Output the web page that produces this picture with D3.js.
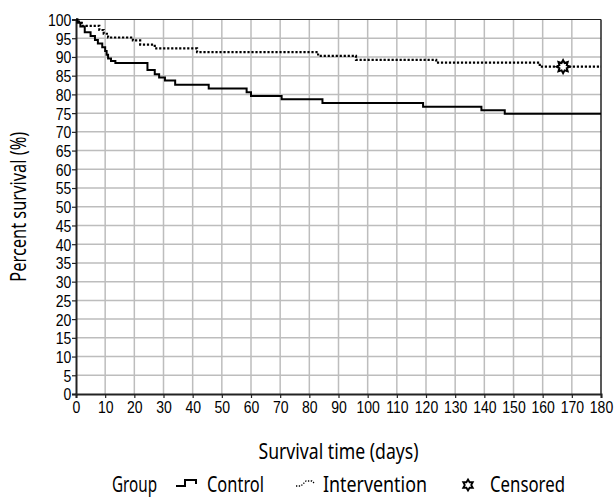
<!DOCTYPE html>
<html>
<head>
<meta charset="utf-8">
<script src="https://cdn.jsdelivr.net/npm/d3@7"></script>
<style>
  html, body { margin: 0; padding: 0; background: #fff; }
  svg { display: block; }
  .lbl { font-family: 'Noto Sans', 'Open Sans', 'DejaVu Sans', sans-serif; fill: #000; }
  .tk { font-family: 'Liberation Sans', Arial, sans-serif; fill: #000; }
</style>
</head>
<body>
<svg id="chart"></svg>
<script>
const WIDTH = 615;
const HEIGHT = 497;
const MARGIN = { top: 19.5, right: 14, bottom: 103, left: 76 };
const TICK_SQUEEZE = 'scale(0.85,1)'; // the original uses a condensed face

// Kaplan-Meier steps
const controlTimes = [0, 0.5, 1.5, 3, 5, 6.5, 7.5, 9, 10, 10.5, 11, 12, 13.5, 24.5, 27, 28.5, 30.5, 34, 45.5, 58.5, 60, 70.5, 84.5, 119, 139, 147];
const controlSurv = [100, 99.1, 98.1, 96.6, 95.6, 94.5, 93.6, 92.6, 91.6, 90.6, 89.6, 88.9, 88.4, 86.5, 85.4, 84.5, 83.7, 82.6, 81.6, 80.6, 79.6, 78.7, 77.7, 76.7, 75.8, 74.8];
const interventionTimes = [0, 1, 2, 8, 9.5, 11, 19.5, 22, 27, 41.5, 83, 96, 123.5, 159];
const interventionSurv = [100, 99.1, 98.3, 97.2, 96.2, 95.2, 94.4, 93.3, 92.3, 91.3, 90.3, 89.2, 88.5, 87.4];
const censoredTimes = [167];
const censoredSurv = [87.4];
const xTicks = d3.range(0, 181, 10);
const yTicks = d3.range(0, 101, 5);
const END_TIME = 180;

const svg = d3.select('#chart')
  .attr('width', WIDTH)
  .attr('height', HEIGHT);

const x = d3.scaleLinear()
  .domain([0, 180])
  .range([MARGIN.left, WIDTH - MARGIN.right]);

const y = d3.scaleLinear()
  .domain([0, 100])
  .range([HEIGHT - MARGIN.bottom, MARGIN.top]);

// Grid
const grid = svg.append('g');
grid.selectAll('line.v')
  .data(xTicks.slice(1, -1))
  .enter()
  .append('line')
  .attr('x1', d => x(d)).attr('x2', d => x(d))
  .attr('y1', y(0)).attr('y2', y(100))
  .attr('stroke', '#bdbdbd')
  .attr('stroke-width', 1.5);
grid.selectAll('line.h')
  .data(yTicks.slice(1, -1))
  .enter()
  .append('line')
  .attr('x1', x(0)).attr('x2', x(180))
  .attr('y1', d => y(d)).attr('y2', d => y(d))
  .attr('stroke', '#bdbdbd')
  .attr('stroke-width', 1.5);

// Frame top / right
svg.append('line')
  .attr('x1', x(0)).attr('x2', x(180))
  .attr('y1', y(100)).attr('y2', y(100))
  .attr('stroke', '#222').attr('stroke-width', 1.2);
svg.append('line')
  .attr('x1', x(180)).attr('x2', x(180))
  .attr('y1', y(100)).attr('y2', y(0))
  .attr('stroke', '#222').attr('stroke-width', 1.5);

// Axes
const xAxis = svg.append('g')
  .attr('transform', 'translate(0,' + y(0) + ')')
  .call(d3.axisBottom(x).tickValues(xTicks).tickSize(4).tickPadding(3).tickFormat(d3.format('d')));
const yAxis = svg.append('g')
  .attr('transform', 'translate(' + x(0) + ',0)')
  .call(d3.axisLeft(y).tickValues(yTicks).tickSize(4).tickPadding(1.5).tickFormat(d3.format('d')));

[xAxis, yAxis].forEach(ax => {
  ax.select('.domain').attr('stroke', '#222').attr('stroke-width', 2);
  ax.selectAll('.tick line').attr('stroke', '#222').attr('stroke-width', 1.2);
  ax.selectAll('.tick text')
    .attr('class', 'tk')
    .attr('fill', '#000')
    .attr('transform', TICK_SQUEEZE)
    .style('font-size', '16.5px');
});
yAxis.selectAll('.tick text').attr('dy', '0.36em');

// Curves
const stepLine = d3.line()
  .x(d => x(d.t))
  .y(d => y(d.s))
  .curve(d3.curveStepAfter);

function toSteps(times, surv) {
  const pts = times.map((t, i) => ({ t: t, s: surv[i] }));
  pts.push({ t: END_TIME, s: surv[surv.length - 1] });
  return pts;
}

svg.append('path')
  .datum(toSteps(interventionTimes, interventionSurv))
  .attr('fill', 'none')
  .attr('stroke', '#000')
  .attr('stroke-width', 2.2)
  .attr('stroke-dasharray', '2.2,1.8')
  .attr('d', stepLine);

svg.append('path')
  .datum(toSteps(controlTimes, controlSurv))
  .attr('fill', 'none')
  .attr('stroke', '#000')
  .attr('stroke-width', 2)
  .attr('d', stepLine);

// Censored marker
function starPath(cx, cy, rOut, rIn, n) {
  const pts = [];
  for (let i = 0; i < n * 2; i++) {
    const r = i % 2 === 0 ? rOut : rIn;
    const a = Math.PI * i / n - Math.PI / 2;
    pts.push([cx + r * Math.cos(a), cy + r * Math.sin(a)]);
  }
  return 'M' + pts.map(p => p.join(',')).join('L') + 'Z';
}

svg.selectAll('path.cens')
  .data(censoredTimes.map((t, i) => ({ t: t, s: censoredSurv[i] })))
  .enter()
  .append('path')
  .attr('d', d => starPath(x(d.t), y(d.s), 6.5, 4, 8))
  .attr('fill', '#fff')
  .attr('stroke', '#000')
  .attr('stroke-width', 2);

// text helper: fixed length so the narrow original face is matched
function label(px, py, str, size, len, anchor, rotate) {
  const g = svg.append('g')
    .attr('transform', 'translate(' + px + ',' + py + ')' + (rotate ? ' rotate(' + rotate + ')' : ''));
  g.append('text')
    .attr('class', 'lbl')
    .attr('text-anchor', anchor || 'start')
    .attr('textLength', len)
    .attr('lengthAdjust', 'spacingAndGlyphs')
    .style('font-size', size + 'px')
    .text(str);
  return g;
}

// Axis titles
label((x(0) + x(180)) / 2, 459, 'Survival time (days)', 21, 160, 'middle');
label(26, (y(0) + y(100)) / 2, 'Percent survival (%)', 21, 150, 'middle', -90);

// Legend
const LEG_Y = 492;
label(112, LEG_Y, 'Group', 21, 45);
svg.append('path')
  .attr('d', 'M176,' + (LEG_Y - 6) + ' h9 v-6 h11 v4')
  .attr('fill', 'none').attr('stroke', '#000').attr('stroke-width', 2);
label(207, LEG_Y, 'Control', 21, 57);
svg.append('path')
  .attr('d', 'M296,' + (LEG_Y - 6) + ' h5 l5,-5 h6 l3,3')
  .attr('fill', 'none').attr('stroke', '#000').attr('stroke-width', 1.3)
  .attr('stroke-dasharray', '1.3,1.5');
label(323, LEG_Y, 'Intervention', 21, 104);
svg.append('path')
  .attr('d', starPath(468, LEG_Y - 7, 5.5, 3.2, 6))
  .attr('fill', '#fff').attr('stroke', '#000').attr('stroke-width', 1.8);
label(490, LEG_Y, 'Censored', 21, 75);
</script>
</body>
</html>
